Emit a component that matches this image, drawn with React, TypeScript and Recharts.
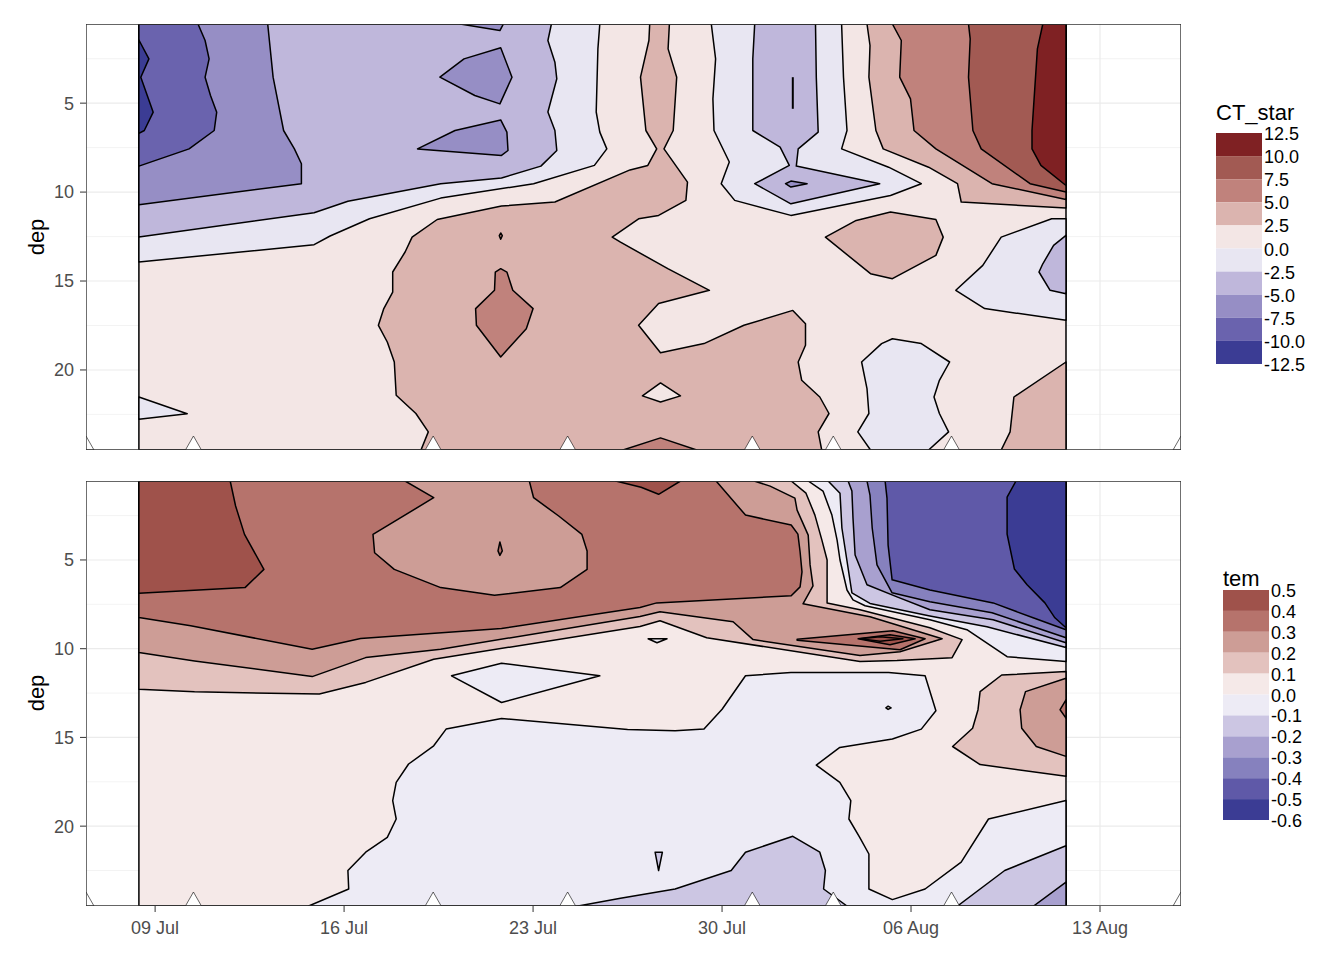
import React from 'react'
import { ScatterChart, Scatter, XAxis, YAxis } from 'recharts'

type Pt = [number, number]

const FONT = '"Liberation Sans", Arial, sans-serif'

// x is the day counted from 1 July (37 = 06 Aug), y is depth
const DAY_TICKS = [9, 16, 23, 30, 37, 44]
const DAY_LABELS = ['09 Jul', '16 Jul', '23 Jul', '30 Jul', '06 Aug', '13 Aug']
const DAY_MINOR = [12.5, 19.5, 26.5, 33.5, 40.5]
const DAY_DOMAIN: [number, number] = [6.44, 47.0]
const DEP_TICKS = [5, 10, 15, 20]
const DEP_MINOR = [2.5, 7.5, 12.5, 17.5, 22.5]
const DEP_DOMAIN: [number, number] = [0.55, 24.5]
const SAMPLE_DAYS = [6.44, 10.42, 19.3, 24.28, 31.12, 34.12, 38.5, 47.0]
const DATA_SPAN: Pt[] = [[8.4, 0.55], [42.74, 0.55], [42.74, 24.5], [8.4, 24.5]]

const CT_BREAKS = [12.5, 10, 7.5, 5, 2.5, 0, -2.5, -5, -7.5, -10, -12.5]
const CT_COLORS = ['#7F2123', '#A25A53', '#C0827C', '#DBB4AF', '#F3E6E5', '#E8E6F2', '#BFB7DB', '#968EC5', '#6A63AE', '#3B3C94']
const TEM_BREAKS = [0.5, 0.4, 0.3, 0.2, 0.1, 0, -0.1, -0.2, -0.3, -0.4, -0.5, -0.6]
const TEM_COLORS = ['#9F524B', '#B6736C', '#CD9D96', '#E3C2BE', '#F5E9E8', '#EDEBF5', '#CCC6E3', '#A8A0CF', '#8681BE', '#5F59A8', '#3B3C94']

// ---- CT_star contour bands ----
const ctA1Left: Pt[] = [[8.4,0.55],[25.47,0.55],[25.4,1.95],[25.34,5.5],[25.47,6.63],[25.73,7.57],[25.27,8.5],[23.02,9.53],[19.58,10.34],[16.94,11.5],[15.48,12.47],[14.89,12.96],[8.4,13.93]]
const ctA2Left: Pt[] = [[8.4,0.55],[23.68,0.55],[23.55,1.48],[23.81,2.7],[23.88,3.63],[23.55,5.5],[23.81,6.54],[23.88,7.66],[23.29,8.54],[21.83,9.21],[19.58,9.53],[16.14,10.52],[14.89,11.16],[8.4,12.53]]
const ctA3Left: Pt[] = [[8.4,0.55],[13.17,0.55],[13.37,3.54],[13.76,6.54],[14.16,7.57],[14.42,8.41],[14.42,9.53],[8.4,10.71]]
const ctA3IsleA: Pt[] = [[19.55,3.54],[20.44,2.51],[21.8,1.89],[22.22,3.54],[21.77,5.04],[20.84,4.57]]
const ctA3IsleB: Pt[] = [[18.72,7.57],[20.11,6.54],[21.8,5.94],[22.03,6.63],[22.07,7.66],[21.83,7.94]]
const ctA3IsleTop: Pt[] = [[20.3,0.55],[21.77,0.92],[21.9,0.55]]
const ctA4Left: Pt[] = [[8.4,0.55],[10.59,0.55],[10.85,1.48],[11.0,2.51],[10.85,3.54],[11.05,4.57],[11.28,5.51],[11.19,6.54],[10.26,7.57],[8.4,8.54]]
const ctA5Left: Pt[] = [[8.4,1.45],[8.77,2.51],[8.47,3.54],[8.93,5.51],[8.6,6.54],[8.4,6.7]]
const ctA1Low: Pt[] = [[8.4,21.52],[10.19,22.46],[8.4,22.77]]
const ctB2Mid: Pt[] = [[27.32,0.55],[28.05,0.55],[28.0,1.95],[28.32,3.54],[28.19,6.54],[27.85,7.57],[28.72,9.44],[28.66,10.47],[27.65,11.31],[26.91,11.5],[25.93,12.53],[26.24,12.81],[27.99,14.31],[29.53,15.52],[27.65,16.27],[26.91,17.49],[27.72,19.03],[29.33,18.52],[30.81,17.49],[32.62,16.65],[33.09,17.4],[33.09,18.61],[32.82,19.55],[32.95,20.58],[33.62,21.52],[33.96,22.45],[33.56,23.48],[33.69,24.5],[18.85,24.5],[19.12,23.48],[18.66,22.45],[17.93,21.42],[17.86,19.55],[17.6,18.43],[17.27,17.49],[17.47,16.55],[17.8,15.62],[17.8,14.49],[18.26,13.37],[18.52,12.53],[19.45,11.54],[21.83,10.79],[23.81,10.56],[26.59,8.75],[27.25,8.5],[27.58,7.57],[27.18,6.54],[26.98,3.54],[27.29,1.48]]
const ctB3Isle: Pt[] = [[21.8,14.31],[22.03,14.5],[22.25,15.52],[23.0,16.55],[22.75,17.68],[21.8,19.27],[20.9,17.49],[20.87,16.55],[21.57,15.52],[21.6,14.5]]
const ctB3Dot: Pt[] = [[21.75,12.45],[21.8,12.3],[21.86,12.45],[21.8,12.65]]
const ctB1Lozenge: Pt[] = [[27.05,21.46],[27.72,20.73],[28.46,21.46],[27.72,21.8]]
const ctB3Hill: Pt[] = [[26.33,24.5],[27.72,23.82],[29.06,24.5]]
const ctA1Mid: Pt[] = [[29.6,0.55],[29.76,2.51],[29.66,4.76],[29.7,6.54],[30.27,8.31],[29.97,9.53],[30.47,10.47],[32.55,11.31],[36.24,10.19],[37.38,9.53],[36.17,8.6],[34.43,7.57],[34.63,6.54],[34.5,3.54],[34.43,0.55]]
const ctA2Mid: Pt[] = [[31.21,0.55],[31.14,2.51],[31.14,6.54],[32.15,7.47],[32.49,8.5],[31.21,9.53],[32.55,10.66],[35.84,9.53],[32.75,8.54],[32.82,7.57],[33.56,6.63],[33.49,3.54],[33.46,0.55]]
const ctA3Mid: Pt[] = [[32.35,9.53],[32.55,9.38],[33.15,9.53],[32.55,9.72]]
const ctStroke: Pt[] = [[32.62,3.54],[32.62,5.32]]
const ctB2Right: Pt[] = [[35.37,0.55],[42.74,0.55],[42.74,10.9],[38.86,10.56],[38.72,9.53],[37.65,8.6],[35.97,7.57],[35.7,6.54],[35.44,3.54],[35.48,1.76]]
const ctB3Right: Pt[] = [[36.31,0.55],[42.74,0.55],[42.74,10.41],[40.0,9.53],[37.92,7.57],[37.11,6.54],[36.98,4.76],[36.58,3.54],[36.64,1.48]]
const ctB4Right: Pt[] = [[39.13,0.55],[42.74,0.55],[42.74,10.0],[41.41,9.53],[39.6,7.57],[39.29,6.54],[39.13,3.54],[39.19,1.38]]
const ctB5Right: Pt[] = [[41.88,0.55],[42.74,0.55],[42.74,9.63],[41.81,8.5],[41.48,7.57],[41.48,6.54],[41.68,1.95]]
const ctB2Isle: Pt[] = [[33.83,12.53],[34.97,11.59],[36.24,11.12],[37.92,11.54],[38.19,12.53],[37.92,13.56],[36.31,14.87],[35.5,14.59]]
const ctA1Right: Pt[] = [[38.66,15.52],[39.66,14.12],[40.34,12.53],[42.21,11.5],[42.74,11.5],[42.74,17.21],[39.73,16.55]]
const ctA2Right: Pt[] = [[42.74,12.43],[42.28,13.0],[41.88,14.03],[41.74,14.49],[42.15,15.52],[42.74,15.71]]
const ctB2Low: Pt[] = [[42.74,19.55],[40.81,21.52],[40.67,23.48],[40.34,24.5],[42.74,24.5]]
const ctA1Bottom: Pt[] = [[35.17,19.55],[35.91,18.52],[36.31,18.24],[37.38,18.52],[38.43,19.55],[38.05,20.58],[37.85,21.52],[38.05,22.45],[38.39,23.48],[37.65,24.5],[35.5,24.5],[35.03,23.48],[35.44,22.45],[35.37,21.05]]

// ---- tem contour bands ----
const temC2: Pt[] = [[8.4,0.55],[32.56,0.55],[33.11,1.24],[33.44,2.47],[33.7,3.88],[33.89,5.0],[33.89,7.42],[35.11,7.81],[37.7,8.82],[38.89,9.49],[38.52,10.51],[36.48,10.67],[35.11,10.73],[29.43,9.38],[27.7,8.43],[26.96,8.75],[19.32,10.59],[16.8,11.9],[15.08,12.56],[10.46,12.43],[8.4,12.28]]
const temC3: Pt[] = [[8.4,0.55],[31.19,0.55],[31.78,0.84],[32.7,1.52],[32.78,2.19],[32.96,2.81],[33.19,3.6],[33.26,5.28],[33.37,6.46],[33.0,7.47],[35.48,8.2],[38.15,9.44],[36.59,10.17],[35.11,10.39],[31.15,9.49],[30.41,8.48],[27.7,7.92],[26.96,8.19],[19.58,10.03],[16.8,10.5],[14.82,11.57],[10.46,10.69],[8.4,10.22]]
const temC4: Pt[] = [[8.4,0.55],[29.78,0.55],[30.87,2.47],[32.56,3.03],[32.81,3.54],[32.89,4.55],[32.96,5.67],[32.89,6.52],[32.56,7.02],[27.58,7.42],[26.96,7.68],[21.83,8.86],[16.61,9.43],[14.82,10.03],[10.32,8.71],[8.4,8.25]]
const temC5: Pt[] = [[8.4,0.55],[11.78,0.55],[11.98,1.96],[12.31,3.56],[13.03,5.53],[12.33,6.56],[8.4,6.88]]
const temC5Top: Pt[] = [[26.06,0.55],[27.0,0.9],[27.65,1.3],[28.46,0.55]]
const temC3Hole: Pt[] = [[18.26,0.55],[19.32,1.49],[17.07,3.56],[17.13,4.59],[17.86,5.53],[19.58,6.56],[21.57,6.99],[24.01,6.56],[25.0,5.53],[25.0,4.49],[24.81,3.56],[23.95,2.52],[23.02,1.49],[22.86,0.55]]
const temC4Dot: Pt[] = [[21.7,4.49],[21.77,3.99],[21.86,4.49],[21.77,4.74]]
const temTongueC4: Pt[] = [[32.78,9.47],[36.33,8.99],[37.52,9.44],[36.59,10.06],[32.78,9.52]]
const temTongueC5: Pt[] = [[35.04,9.44],[36.22,9.21],[37.15,9.44],[36.22,9.78]]
const temTongueCore: Pt[] = [[35.11,9.44],[35.85,9.33],[36.7,9.44],[35.85,9.58]]
const temC2Right: Pt[] = [[42.74,11.29],[40.36,11.48],[39.56,12.42],[39.48,13.44],[39.28,14.48],[38.54,15.51],[39.56,16.53],[42.74,17.19]]
const temC3Right: Pt[] = [[42.74,11.67],[41.24,12.42],[41.04,13.44],[41.1,14.48],[41.64,15.51],[42.74,16.07]]
const temC4Right: Pt[] = [[42.74,12.88],[42.52,13.44],[42.74,13.91]]
const temD1Low: Pt[] = [[14.69,24.5],[16.17,23.54],[16.14,22.5],[16.8,21.47],[17.6,20.63],[17.93,19.6],[17.8,18.56],[17.93,17.53],[18.39,16.5],[19.32,15.47],[19.78,14.53],[21.83,13.93],[26.5,14.55],[28.26,14.62],[29.33,14.53],[30.0,13.41],[30.87,11.53],[32.55,11.34],[36.17,11.34],[37.52,11.53],[37.92,13.5],[37.38,14.53],[36.31,15.09],[34.36,15.56],[33.49,16.56],[34.36,17.53],[34.77,18.56],[34.7,19.6],[35.1,20.63],[35.44,21.57],[35.44,23.54],[36.31,24.14],[37.52,23.54],[38.86,22.03],[39.87,19.6],[42.74,18.56],[42.74,24.5]]
const temD1Isle: Pt[] = [[19.98,11.53],[21.83,10.82],[25.47,11.53],[21.83,13.03]]
const temD1Tiny: Pt[] = [[27.26,9.44],[27.96,9.44],[27.59,9.66]]
const temC1Loop: Pt[] = [[36.07,13.33],[36.15,13.24],[36.26,13.33],[36.15,13.42]]
const temD2Lens: Pt[] = [[27.52,21.47],[27.79,21.47],[27.65,22.5]]
const temD2Low: Pt[] = [[24.67,24.5],[26.24,24.06],[28.26,23.54],[30.34,22.5],[30.87,21.47],[32.62,20.57],[33.62,21.47],[33.83,22.5],[33.76,23.54],[34.63,24.5]]
const temD2Right: Pt[] = [[38.72,24.5],[40.47,22.5],[42.74,21.1],[42.74,24.5]]
const temD3Corner: Pt[] = [[41.54,24.5],[42.74,23.16],[42.74,24.5]]
const temD1Fan: Pt[] = [[33.19,0.55],[42.74,0.55],[42.74,10.73],[40.56,10.45],[39.07,8.93],[37.7,8.37],[35.3,7.58],[34.85,7.25],[34.63,6.69],[34.37,5.0],[34.26,3.88],[34.07,2.47],[33.74,1.12]]
const temD2Fan: Pt[] = [[33.93,0.55],[42.74,0.55],[42.74,9.94],[39.81,8.76],[37.7,8.15],[35.48,7.45],[34.81,6.85],[34.63,5.06],[34.44,3.2],[34.37,1.24]]
const temD3Fan: Pt[] = [[34.67,0.55],[42.74,0.55],[42.74,9.66],[40.04,8.37],[37.7,7.81],[36.48,7.08],[35.37,6.4],[34.93,4.72],[34.85,2.64],[34.81,1.12]]
const temD4Fan: Pt[] = [[35.37,0.55],[42.74,0.55],[42.74,9.38],[40.0,7.98],[37.7,7.36],[36.3,6.85],[35.74,5.28],[35.56,3.2],[35.48,1.35]]
const temD5Fan: Pt[] = [[36.04,0.55],[42.74,0.55],[42.74,8.93],[41.52,8.26],[40.04,7.42],[37.7,6.69],[36.3,6.12],[36.15,4.16],[36.11,1.52]]
const temD6Fan: Pt[] = [[40.89,0.55],[42.74,0.55],[42.74,8.82],[42.33,8.26],[41.96,7.42],[41.3,6.4],[40.83,5.51],[40.56,3.54],[40.56,1.46]]

// painting order: [polygon, band index into the colour list]
const CT_LAYERS: [Pt[], number][] = [
  [DATA_SPAN, 4], [ctA1Left, 5], [ctA2Left, 6], [ctA3Left, 7], [ctA3IsleA, 7], [ctA3IsleB, 7], [ctA3IsleTop, 7],
  [ctA4Left, 8], [ctA5Left, 9], [ctA1Low, 5], [ctB2Mid, 3], [ctB3Isle, 2], [ctB3Dot, 2], [ctB1Lozenge, 4], [ctB3Hill, 2],
  [ctA1Mid, 5], [ctA2Mid, 6], [ctA3Mid, 7], [ctB2Right, 3], [ctB3Right, 2], [ctB4Right, 1], [ctB5Right, 0],
  [ctB2Isle, 3], [ctA1Right, 5], [ctA2Right, 6], [ctB2Low, 3], [ctA1Bottom, 5],
]
const TEM_LAYERS: [Pt[], number][] = [
  [DATA_SPAN, 4], [temC2, 3], [temC3, 2], [temC4, 1], [temC5, 0], [temC5Top, 0], [temC3Hole, 2], [temC4Dot, 1],
  [temTongueC4, 1], [temTongueC5, 0], [temTongueCore, 0], [temC2Right, 3], [temC3Right, 2], [temC4Right, 1],
  [temD1Low, 5], [temD1Isle, 5], [temD1Tiny, 5], [temC1Loop, 4], [temD2Lens, 6], [temD2Low, 6], [temD2Right, 6], [temD3Corner, 7],
  [temD1Fan, 5], [temD2Fan, 6], [temD3Fan, 7], [temD4Fan, 8], [temD5Fan, 9], [temD6Fan, 10],
]

const pathOf = (pts: { x: number; y: number }[], closed: boolean) =>
  pts.map((p, i) => `${i ? 'L' : 'M'}${p.x.toFixed(1)},${p.y.toFixed(1)}`).join(' ') + (closed ? ' Z' : '')

const noDot = () => <g />

function polyline(key: string, pts: Pt[], fill: string, stroke: string, width: number, closed = true) {
  return (
    <Scatter
      key={key}
      data={pts.map(([x, y]) => ({ x, y }))}
      isAnimationActive={false}
      legendType="none"
      lineType="joint"
      shape={noDot}
      line={(p: any) => (
        <path d={pathOf(p.points, closed)} fill={fill} stroke={stroke} strokeWidth={width} strokeLinejoin="round" />
      )}
    />
  )
}

function gridLines() {
  const out: React.ReactNode[] = []
  DEP_MINOR.forEach((d) => out.push(polyline(`hm${d}`, [[DAY_DOMAIN[0], d], [DAY_DOMAIN[1], d]], 'none', '#EBEBEB', 0.6, false)))
  DAY_MINOR.forEach((d) => out.push(polyline(`vm${d}`, [[d, DEP_DOMAIN[0]], [d, DEP_DOMAIN[1]]], 'none', '#EBEBEB', 0.6, false)))
  DEP_TICKS.forEach((d) => out.push(polyline(`hM${d}`, [[DAY_DOMAIN[0], d], [DAY_DOMAIN[1], d]], 'none', '#EBEBEB', 1.2, false)))
  DAY_TICKS.forEach((d) => out.push(polyline(`vM${d}`, [[d, DEP_DOMAIN[0]], [d, DEP_DOMAIN[1]]], 'none', '#EBEBEB', 1.2, false)))
  return out
}

const triangle = (p: any) => (
  <path d={`M${p.cx - 8},${p.cy} L${p.cx + 8},${p.cy} L${p.cx},${p.cy - 14} Z`} fill="#fff" stroke="#000" strokeWidth={0.6} />
)

interface PanelProps {
  top: number
  height: number
  bottom: number
  layers: [Pt[], number][]
  colors: string[]
  showDates: boolean
  extra?: React.ReactNode
}

function Panel({ top, height, bottom, layers, colors, showDates, extra }: PanelProps) {
  const border: Pt[] = [[DAY_DOMAIN[0], DEP_DOMAIN[0]], [DAY_DOMAIN[1], DEP_DOMAIN[0]], [DAY_DOMAIN[1], DEP_DOMAIN[1]], [DAY_DOMAIN[0], DEP_DOMAIN[1]]]
  return (
    <div style={{ position: 'absolute', left: 0, top }}>
      <ScatterChart width={1344} height={height} margin={{ top: 24, right: 163, bottom, left: 0 }}>
        <XAxis
          type="number"
          dataKey="x"
          domain={DAY_DOMAIN}
          allowDataOverflow
          ticks={DAY_TICKS}
          interval={0}
          height={showDates ? 40 : 0}
          axisLine={false}
          tickSize={6}
          tickMargin={9}
          tickLine={{ stroke: '#333333' }}
          tick={{ fill: '#4D4D4D', fontSize: 18, fontFamily: FONT }}
          tickFormatter={(v: number) => (showDates ? DAY_LABELS[DAY_TICKS.indexOf(v)] ?? '' : '')}
        />
        <YAxis
          type="number"
          dataKey="y"
          domain={DEP_DOMAIN}
          reversed
          allowDataOverflow
          ticks={DEP_TICKS}
          interval={0}
          width={86}
          axisLine={false}
          tickSize={6}
          tickMargin={6}
          tickLine={{ stroke: '#333333' }}
          tick={{ fill: '#4D4D4D', fontSize: 18, fontFamily: FONT }}
        />
        {gridLines()}
        {layers.map(([pts, band], i) => polyline(`b${i}`, pts, colors[band], '#000', 1.5))}
        {extra}
        <Scatter
          data={SAMPLE_DAYS.map((d) => ({ x: d, y: DEP_DOMAIN[1] }))}
          isAnimationActive={false}
          legendType="none"
          shape={triangle}
        />
        {polyline('border', border, 'none', '#333333', 1.4)}
      </ScatterChart>
    </div>
  )
}

function StepLegend({ x, y, width, height, title, breaks, colors, titleGap }: {
  x: number; y: number; width: number; height: number; title: string; breaks: number[]; colors: string[]; titleGap: number
}) {
  const step = height / colors.length
  return (
    <g fontFamily={FONT}>
      {colors.map((c, i) => (
        <rect key={c + i} x={x} y={y + i * step} width={width} height={step} fill={c} />
      ))}
      {breaks.map((b, i) => (
        <text key={i} x={x + width + 2} y={y + i * step + 1} fontSize={18} fill="#000" dominantBaseline="central">
          {b.toFixed(1)}
        </text>
      ))}
      <text x={x} y={y - titleGap} fontSize={22} fill="#000">{title}</text>
    </g>
  )
}

export default function App() {
  return (
    <div style={{ position: 'absolute', left: 0, top: 0, width: 1344, height: 960, background: '#fff' }}>
      <Panel
        top={0}
        height={460}
        bottom={10}
        layers={CT_LAYERS}
        colors={CT_COLORS}
        showDates={false}
        extra={polyline('ctStroke', ctStroke, 'none', '#000', 2, false)}
      />
      <Panel top={457} height={500} bottom={11} layers={TEM_LAYERS} colors={TEM_COLORS} showDates />
      <svg width={1344} height={960} style={{ position: 'absolute', left: 0, top: 0, pointerEvents: 'none' }}>
        <text transform="translate(36,237) rotate(-90)" textAnchor="middle" dominantBaseline="central" fontSize={22} fontFamily={FONT}>dep</text>
        <text transform="translate(36,693) rotate(-90)" textAnchor="middle" dominantBaseline="central" fontSize={22} fontFamily={FONT}>dep</text>
        <StepLegend x={1216} y={133} width={46} height={231} title="CT_star" titleGap={13} breaks={CT_BREAKS} colors={CT_COLORS} />
        <StepLegend x={1223} y={590} width={46} height={230} title="tem" titleGap={4} breaks={TEM_BREAKS} colors={TEM_COLORS} />
      </svg>
    </div>
  )
}
